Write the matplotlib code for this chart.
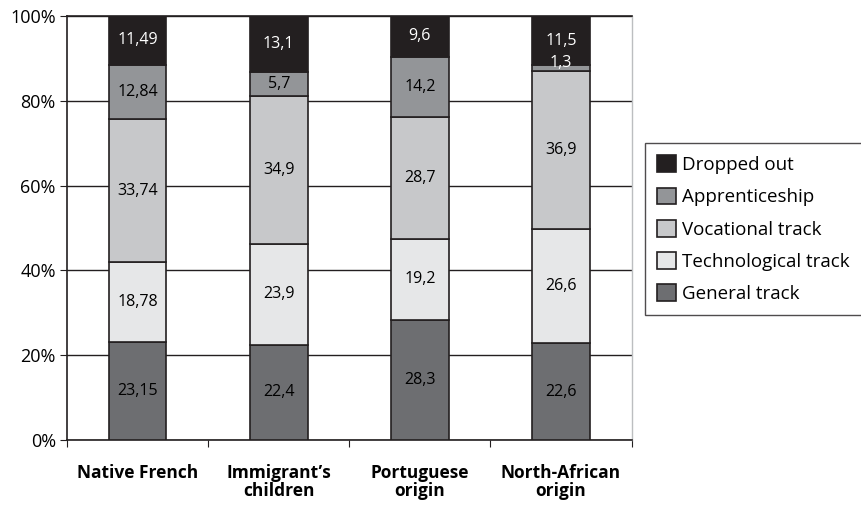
import matplotlib.pyplot as plt
import numpy as np

plt.rcParams['font.family'] = ['Open Sans', 'DejaVu Sans']

groups = ["Native French", "Immigrant\u2019s\nchildren", "Portuguese\norigin", "North-African\norigin"]
series = ["General track", "Technological track", "Vocational track", "Apprenticeship", "Dropped out"]
general = [23.15, 22.4, 28.3, 22.6]
technological = [18.78, 23.9, 19.2, 26.6]
vocational = [33.74, 34.9, 28.7, 36.9]
apprenticeship = [12.84, 5.7, 14.2, 1.3]
dropped = [11.49, 13.1, 9.6, 11.5]
labels = [["23,15", "22,4", "28,3", "22,6"],
          ["18,78", "23,9", "19,2", "26,6"],
          ["33,74", "34,9", "28,7", "36,9"],
          ["12,84", "5,7", "14,2", "1,3"],
          ["11,49", "13,1", "9,6", "11,5"]]
colors = ["#6d6e71", "#e6e7e8", "#c7c8ca", "#939598", "#231f20"]

values = np.array([general, technological, vocational, apprenticeship, dropped])
pct = values / values.sum(axis=0) * 100

fig = plt.figure(facecolor='w', figsize=(8.62, 5.09), dpi=100)
ax = fig.add_axes([0.0777, 0.1356, 0.655, 0.833])

x = np.arange(len(groups))
bottom = np.zeros(len(groups))
handles = []
for i, name in enumerate(series):
    b = ax.bar(x, pct[i], 0.41, bottom=bottom, color=colors[i], edgecolor='#231f20',
               linewidth=1.2, label=name, zorder=3)
    handles.append(b)
    for j in range(len(groups)):
        yc = bottom[j] + pct[i][j] / 2
        tc = 'white' if i == 4 else 'black'
        if i == 3 and pct[i][j] < 3:
            yc = bottom[j] + pct[i][j] + 0.6
            tc = 'white'
        ax.text(x[j], yc, labels[i][j], ha='center', va='center', fontsize=11.5,
                color=tc, zorder=4)
    bottom += pct[i]

ax.set_xlim(-0.5, len(groups) - 0.5)
ax.set_ylim(0, 100)
ax.set_yticks([0, 20, 40, 60, 80, 100])
ax.set_yticklabels(["0%", "20%", "40%", "60%", "80%", "100%"], fontsize=13)
ax.set_xticks(np.arange(-0.5, len(groups), 1.0))
ax.set_xticklabels([])
ax.set_xticks(x, minor=True)
ax.set_xticklabels(groups, minor=True, fontsize=12.5, fontweight='bold', linespacing=1.05)
ax.tick_params(axis='x', which='minor', length=0, pad=17)
ax.tick_params(axis='x', which='major', length=5, direction='out', color='#231f20')
ax.tick_params(axis='y', length=5, direction='out', color='#231f20', pad=3)
ax.yaxis.grid(True, color='#231f20', linewidth=1.0, zorder=0)
ax.set_axisbelow(True)

for s in ['left', 'bottom', 'top']:
    ax.spines[s].set_color('#231f20')
    ax.spines[s].set_linewidth(1.2)
ax.spines['right'].set_color('#bcbec0')
ax.spines['right'].set_linewidth(1.0)

leg = fig.legend(handles[::-1], series[::-1], loc='upper left',
                 bbox_to_anchor=(0.748, 0.719), fontsize=13.5, frameon=True,
                 fancybox=False, edgecolor='#231f20', handlelength=1.0,
                 handleheight=1.0, handletextpad=0.35, labelspacing=0.72,
                 borderpad=0.65, borderaxespad=0)
leg.get_frame().set_linewidth(1.0)

plt.savefig('out.png', dpi=100)
